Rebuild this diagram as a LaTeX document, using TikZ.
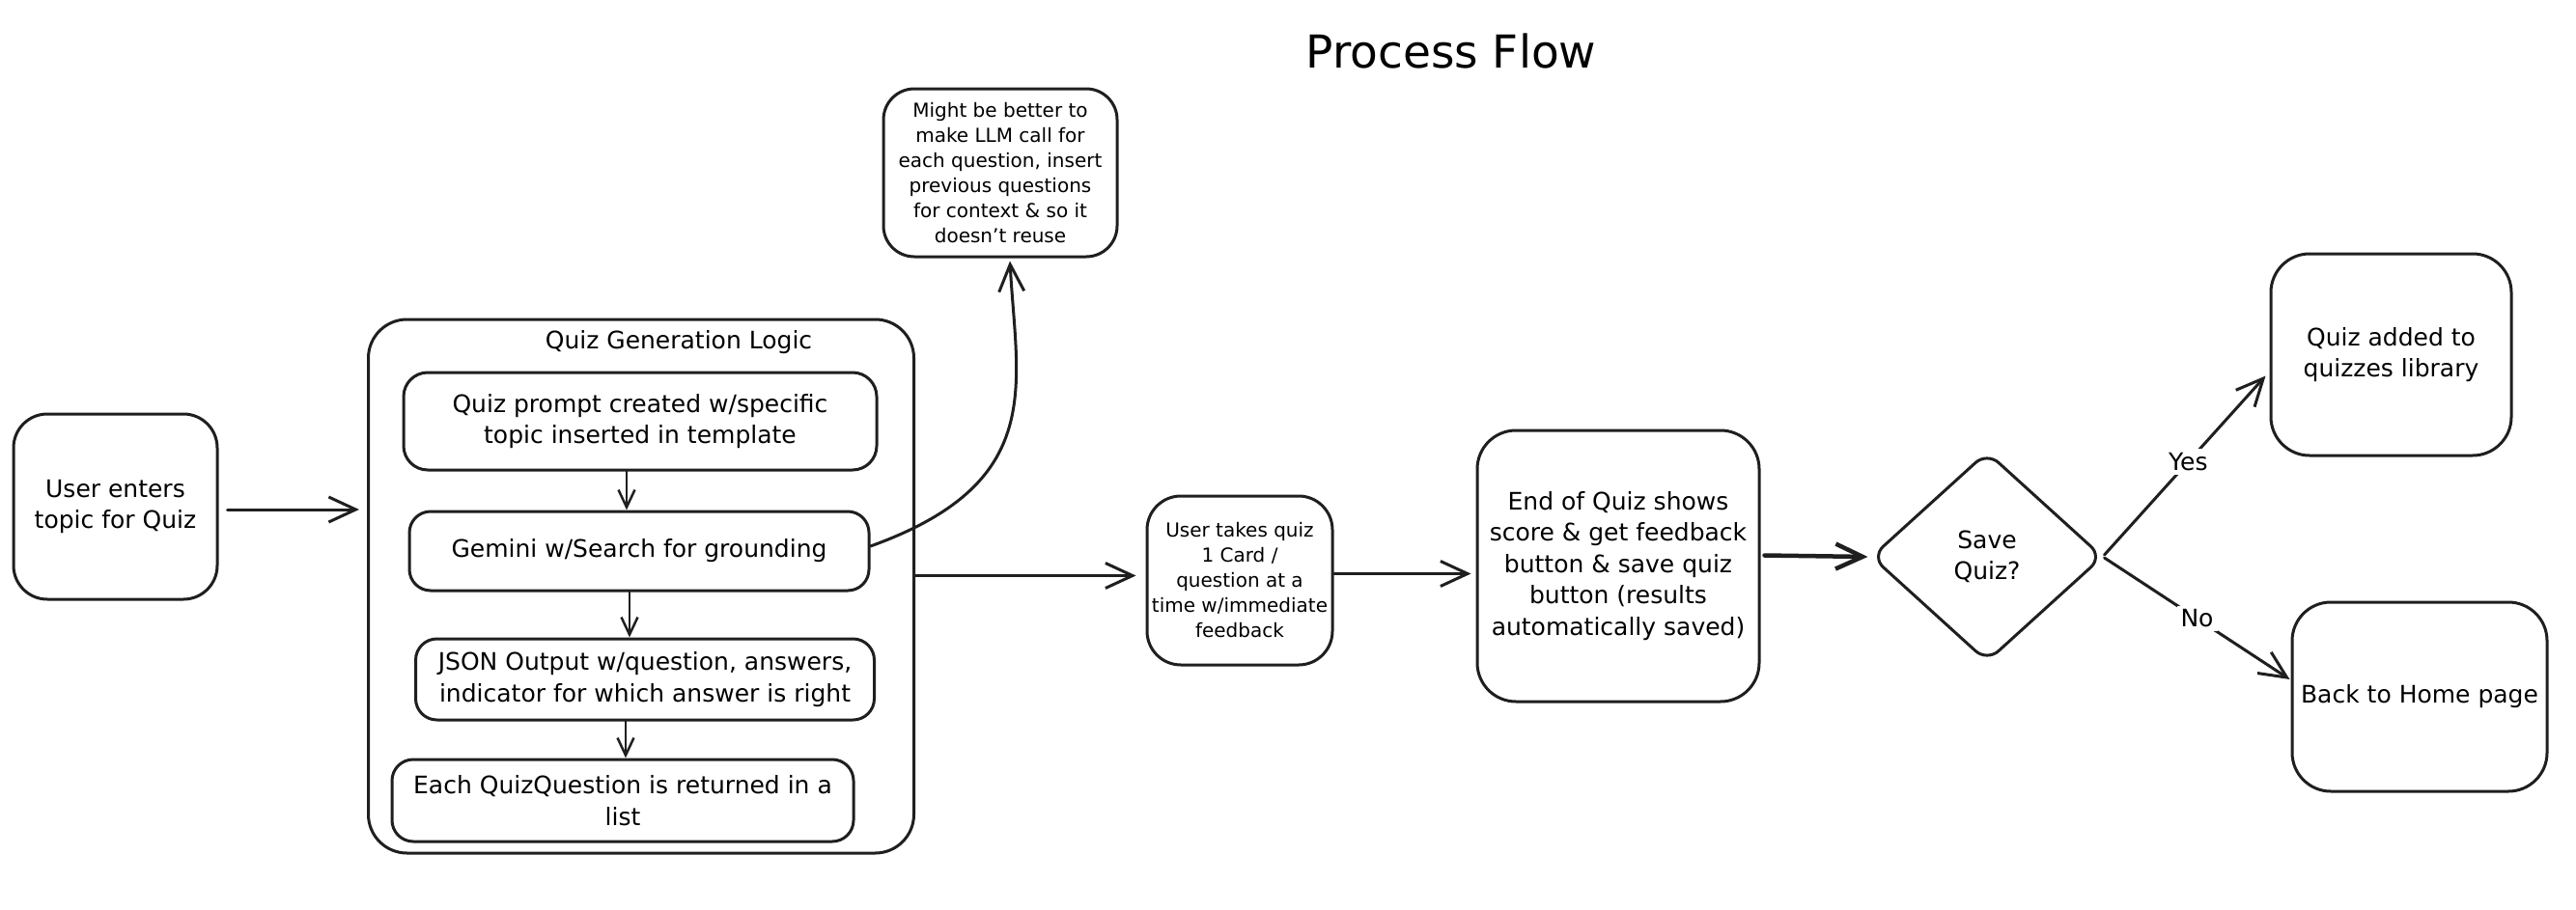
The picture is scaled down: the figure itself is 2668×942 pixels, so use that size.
\documentclass[tikz,border=0pt]{standalone}
\usepackage{fontspec}
\setmainfont{DejaVu Sans}
\usetikzlibrary{arrows.meta,shapes.geometric}
\newcommand\fmain{\fontsize{25}{32.5}\selectfont}
\newcommand\fsmall{\fontsize{20}{26}\selectfont}
\newcommand\ftitle{\fontsize{47}{56}\selectfont}
\begin{document}
\begin{tikzpicture}[x=1pt,y=-1pt,
  line join=round, line cap=round,
  box/.style={draw=black!88, line width=3pt, rounded corners=#1, inner sep=0pt, align=center, font=\fmain},
  box/.default=30pt,
  arr/.style={-{Straight Barb[length=28pt,width=26pt]}, line width=3pt, draw=black!88},
  sarr/.style={-{Straight Barb[length=18pt,width=17pt]}, line width=2.5pt, draw=black!88},
  lbl/.style={fill=white, font=\fmain, inner sep=4pt}
]
\fill[white] (0,0) rectangle (2668,942);
\useasboundingbox (0,0) rectangle (2668,942);

% title
\node[font=\ftitle] (title) at (1503,53) {Process Flow};

% left input box
\node[box=35pt, minimum width=211pt, minimum height=192pt] (user) at (119.5,525) {User enters\\topic for Quiz};

% container
\node[box=40pt, minimum width=565pt, minimum height=553pt] (container) at (664,607.5) {};
\node[font=\fmain] (ctitle) at (703,355) {Quiz Generation Logic};

\node[box=25pt, minimum width=490pt, minimum height=101pt] (boxA) at (663,436.5) {Quiz prompt created w/specific\\topic inserted in template};
\node[box=22pt, minimum width=476pt, minimum height=82pt] (boxB) at (662,571) {Gemini w/Search for grounding};
\node[box=22pt, minimum width=475pt, minimum height=84pt] (boxC) at (668,704) {JSON Output w/question, answers,\\indicator for which answer is right};
\node[box=22pt, minimum width=478pt, minimum height=85pt] (boxD) at (645,829.5) {Each QuizQuestion is returned in a\\list};

% note
\node[box=32pt, minimum width=242pt, minimum height=174pt, font=\fsmall] (note) at (1036,179) {Might be better to\\make LLM call for\\each question, insert\\previous questions\\for context \& so it\\doesn’t reuse};

% user takes quiz
\node[box=35pt, minimum width=192pt, minimum height=175pt, font=\fsmall] (takes) at (1284,601.5) {User takes quiz\\1 Card /\\question at a\\time w/immediate\\feedback};

% end of quiz
\node[box=40pt, minimum width=292pt, minimum height=281pt] (endq) at (1676,586.5) {End of Quiz shows\\score \& get feedback\\button \& save quiz\\button (results\\automatically saved)};

% decision
\node[draw=black!88, line width=3pt, shape=diamond, minimum width=240pt, minimum height=218pt, inner sep=0pt, rounded corners=16pt, align=center, font=\fmain] (dec) at (2058,577) {Save\\Quiz?};

% outcomes
\node[box=40pt, minimum width=249pt, minimum height=209pt] (added) at (2476.5,367.5) {Quiz added to\\quizzes library};
\node[box=40pt, minimum width=264pt, minimum height=196pt] (home) at (2506,722) {Back to Home page};

% connectors
\draw[arr] ([xshift=9pt,yshift=-3pt]user.east) -- ([xshift=-8pt,yshift=-3pt]user.east -| container.west);
\draw[sarr] ([xshift=-14pt]boxA.south) -- ([xshift=-14pt]boxA.south |- boxB.north);
\draw[sarr] ([xshift=-10pt]boxB.south) -- ([xshift=-10pt]boxB.south |- boxC.north);
\draw[sarr] ([xshift=-20pt]boxC.south) -- ([xshift=-20pt]boxC.south |- boxD.north);
\draw[arr] ([yshift=5pt]boxB.east) .. controls (1085,500) and (1053,400) .. ([xshift=10pt,yshift=-3pt]note.south);
\draw[arr] ([yshift=11pt]container.east) -- ([yshift=11pt,xshift=-10pt]container.east -| takes.west);
\draw[arr] ([yshift=7pt]takes.east) -- ([yshift=7pt,xshift=-5pt]takes.east -| endq.west);
\draw[arr, line width=4.5pt] ([xshift=4pt,yshift=11pt]endq.east) -- ([xshift=-2pt]dec.west);
\draw[arr] ([yshift=2pt]dec.east) -- node[lbl, pos=0.52] (yes) {Yes} ([xshift=-4pt,yshift=-22pt]added.west);
\draw[arr] ([yshift=-1pt]dec.east) -- node[lbl, pos=0.5] (no) {No} ([xshift=-1pt,yshift=18pt]home.west);
\end{tikzpicture}
\end{document}
